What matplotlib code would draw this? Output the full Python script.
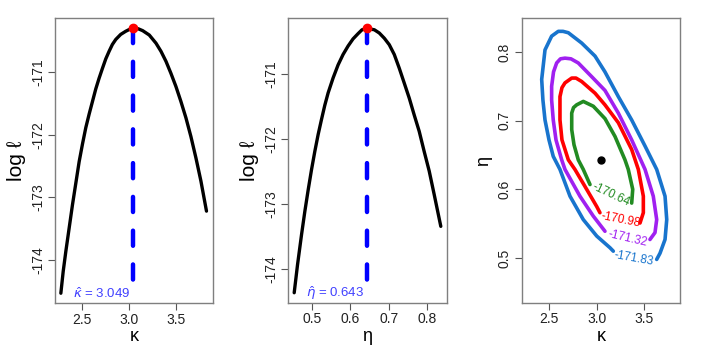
import matplotlib
matplotlib.use("Agg")
import matplotlib.pyplot as plt

plt.rcParams['font.family'] = ['Liberation Sans', 'DejaVu Sans']
plt.rcParams['mathtext.fontset'] = 'custom'
plt.rcParams['mathtext.rm'] = 'Liberation Sans'
plt.rcParams['mathtext.it'] = 'DejaVu Sans:italic'

# ---- profile log-likelihood in kappa ----
kappa_grid = [2.280, 2.305, 2.333, 2.368, 2.403, 2.439, 2.474, 2.509, 2.544, 2.580,
              2.615, 2.650, 2.685, 2.721, 2.756, 2.791, 2.826, 2.862, 2.914, 2.967,
              3.020, 3.049, 3.100, 3.147, 3.217, 3.288, 3.341, 3.394, 3.446, 3.499,
              3.552, 3.605, 3.658, 3.711, 3.764, 3.823]
loglik_kappa = [-174.53, -174.18, -173.86, -173.49, -173.12, -172.77, -172.43, -172.15,
                -171.89, -171.67, -171.47, -171.27, -171.10, -170.94, -170.79, -170.67,
                -170.56, -170.48, -170.40, -170.35, -170.31, -170.30, -170.31, -170.34,
                -170.41, -170.54, -170.67, -170.83, -171.02, -171.23, -171.47, -171.73,
                -172.03, -172.37, -172.74, -173.22]

# ---- profile log-likelihood in eta ----
eta_grid = [0.4531, 0.4618, 0.4722, 0.4809, 0.4896, 0.4983, 0.5069, 0.5156, 0.5243,
            0.5330, 0.5417, 0.5547, 0.5677, 0.5807, 0.5938, 0.6068, 0.6198, 0.6302,
            0.643, 0.6623, 0.6753, 0.6884, 0.7014, 0.7144, 0.7274, 0.7405, 0.7535,
            0.7665, 0.7795, 0.7925, 0.8056, 0.8186, 0.8359]
loglik_eta = [-174.36, -173.93, -173.47, -173.11, -172.78, -172.47, -172.19, -171.93,
              -171.70, -171.48, -171.29, -171.06, -170.86, -170.70, -170.57, -170.46,
              -170.38, -170.32, -170.30, -170.32, -170.37, -170.45, -170.55, -170.70,
              -170.91, -171.14, -171.37, -171.63, -171.88, -172.19, -172.49, -172.85,
              -173.34]

kappa_hat = 3.049
eta_hat = 0.643
loglik_max = -170.30

# ---- contour paths (kappa, eta) ----
levels = [-170.64, -170.98, -171.32, -171.83]
level_colors = ['#228B22', '#FF0000', '#A020F0', '#1874CD']

c1_k = [2.930, 2.859, 2.806, 2.761, 2.737, 2.737, 2.756, 2.789, 2.859, 2.965, 3.088,
        3.194, 3.299, 3.334, 3.381, 3.370]
c1_e = [0.607, 0.629, 0.643, 0.665, 0.687, 0.711, 0.719, 0.723, 0.728, 0.721, 0.703,
        0.677, 0.643, 0.629, 0.600, 0.580]

c2_k = [3.035, 3.001, 2.895, 2.771, 2.701, 2.634, 2.613, 2.613, 2.634, 2.666, 2.737,
        2.782, 2.842, 2.983, 3.088, 3.229, 3.370, 3.440, 3.493, 3.493, 3.458]
c2_e = [0.566, 0.575, 0.600, 0.629, 0.643, 0.672, 0.701, 0.735, 0.748, 0.755, 0.762,
        0.762, 0.757, 0.740, 0.723, 0.697, 0.658, 0.629, 0.590, 0.566, 0.551]

c3_k = [3.088, 2.965, 2.824, 2.666, 2.631, 2.571, 2.542, 2.525, 2.525, 2.545, 2.578,
        2.618, 2.666, 2.729, 2.806, 2.948, 3.088, 3.229, 3.370, 3.511, 3.598, 3.634,
        3.616, 3.563]
c3_e = [0.539, 0.561, 0.590, 0.629, 0.643, 0.672, 0.701, 0.730, 0.750, 0.771, 0.784,
        0.790, 0.791, 0.790, 0.784, 0.764, 0.744, 0.711, 0.672, 0.629, 0.590, 0.556,
        0.537, 0.527]

c4_k = [3.176, 3.141, 3.001, 2.859, 2.719, 2.613, 2.542, 2.497, 2.455, 2.433, 2.420,
        2.455, 2.525, 2.595, 2.645, 2.701, 2.842, 2.983, 3.088, 3.229, 3.370, 3.511,
        3.634, 3.722, 3.740, 3.722, 3.669, 3.634]
c4_e = [0.510, 0.515, 0.532, 0.556, 0.590, 0.629, 0.648, 0.672, 0.701, 0.730, 0.760,
        0.803, 0.823, 0.830, 0.830, 0.828, 0.813, 0.794, 0.771, 0.735, 0.701, 0.663,
        0.629, 0.590, 0.556, 0.527, 0.507, 0.498]

label_k = [3.148, 3.254, 3.324, 3.387]
label_e = [0.592, 0.556, 0.529, 0.500]
label_rot = [-25, -11, -13, -10]

kappa_ticks = [2.5, 3.0, 3.5]
eta_ticks = [0.5, 0.6, 0.7, 0.8]
ll_ticks = [-171, -172, -173, -174]

fig = plt.figure(figsize=(7.07, 3.53), dpi=100)
W, H = 707, 353

def add_ax(l, r, t, b):
    return fig.add_axes([l / W, 1 - b / H, (r - l) / W, (b - t) / H])

ax1 = add_ax(55, 213, 18, 303)
ax2 = add_ax(288.3, 446.7, 18.3, 302.7)
ax3 = add_ax(521.7, 680, 18.3, 302.7)

frame_col = '#7f7f7f'
for ax in (ax1, ax2, ax3):
    for s in ax.spines.values():
        s.set_color(frame_col)
        s.set_linewidth(1.0)
    ax.tick_params(direction='out', length=5, width=0.8, color='#555555',
                   labelsize=10, labelcolor='#222222', pad=2)

def style_y(ax, ticks, fmt):
    ax.set_yticks(ticks)
    ax.set_yticklabels([fmt(t) for t in ticks], rotation=90, va='center')

line_kw = dict(solid_capstyle='round', solid_joinstyle='round')

# panel 1
ax1.plot(kappa_grid, loglik_kappa, color='black', lw=2.4, **line_kw)
ax1.plot([kappa_hat, kappa_hat], [loglik_max, min(loglik_kappa)], color='#0000FF', lw=3.2,
         dashes=(3.4, 4.2), dash_capstyle='round')
ax1.plot([kappa_hat], [loglik_max], 'o', color='red', ms=6)
ax1.set_xlim(2.218, 3.892)
ax1.set_ylim(-174.686, -170.138)
ax1.set_xticks(kappa_ticks)
ax1.set_xticklabels(['2.5', '3.0', '3.5'])
style_y(ax1, ll_ticks, lambda t: '-%d' % abs(t))
ax1.text(kappa_hat - 0.03, min(loglik_kappa), r'$\hat{\kappa}$' + ' = 3.049', color='#4040ff',
         fontsize=9.5, ha='right', va='center')
ax1.set_xlabel('κ', fontsize=13, labelpad=1)
ax1.set_ylabel('log ℓ', fontsize=15, labelpad=4)

# panel 2
ax2.plot(eta_grid, loglik_eta, color='black', lw=2.4, **line_kw)
ax2.plot([eta_hat, eta_hat], [loglik_max, min(loglik_eta)], color='#0000FF', lw=3.2,
         dashes=(3.4, 4.2), dash_capstyle='round')
ax2.plot([eta_hat], [loglik_max], 'o', color='red', ms=6)
ax2.set_xlim(0.4377, 0.8513)
ax2.set_ylim(-174.513, -170.144)
ax2.set_xticks(eta_ticks)
ax2.set_xticklabels(['0.5', '0.6', '0.7', '0.8'])
style_y(ax2, ll_ticks, lambda t: '-%d' % abs(t))
ax2.text(eta_hat - 0.008, min(loglik_eta), r'$\hat{\eta}$' + ' = 0.643', color='#4040ff',
         fontsize=9.5, ha='right', va='center')
ax2.set_xlabel('η', fontsize=13, labelpad=1)
ax2.set_ylabel('log ℓ', fontsize=15, labelpad=4)

# panel 3
paths = [(c1_k, c1_e), (c2_k, c2_e), (c3_k, c3_e), (c4_k, c4_e)]
for (ck, ce), col in zip(paths, level_colors):
    ax3.plot(ck, ce, color=col, lw=2.6, **line_kw)
for lk, le, lev, col, rot in zip(label_k, label_e, levels, level_colors, label_rot):
    ax3.text(lk, le, '%.2f' % lev, color=col, fontsize=8.5, rotation=rot,
             ha='center', va='center', rotation_mode='anchor')
ax3.plot([kappa_hat], [eta_hat], 'o', color='black', ms=5)
ax3.set_xlim(2.209, 3.880)
ax3.set_ylim(0.435, 0.849)
ax3.set_xticks(kappa_ticks)
ax3.set_xticklabels(['2.5', '3.0', '3.5'])
style_y(ax3, eta_ticks, lambda t: '%.1f' % t)
ax3.set_xlabel('κ', fontsize=13, labelpad=1)
ax3.set_ylabel('η', fontsize=13, labelpad=4)

fig.savefig('out.png', dpi=100)
